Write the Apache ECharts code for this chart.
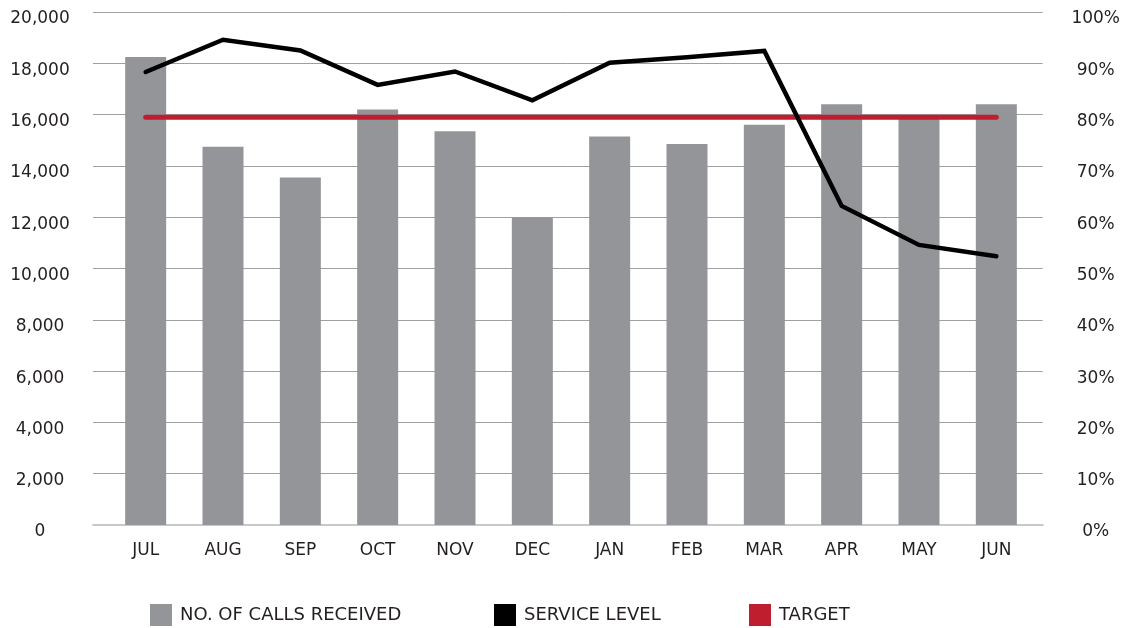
<!DOCTYPE html>
<html>
<head>
<meta charset="utf-8">
<script src="https://cdn.jsdelivr.net/npm/echarts@6/dist/echarts.min.js"></script>
<style>
html,body{margin:0;padding:0;background:#fff;}
#chart{width:1123px;height:628px;}
</style>
</head>
<body>
<div id="chart"></div>
<script>
var categories = ['JUL','AUG','SEP','OCT','NOV','DEC','JAN','FEB','MAR','APR','MAY','JUN'];
var callsReceived = [18250, 14750, 13550, 16200, 15350, 12000, 15150, 14850, 15600, 16400, 15900, 16400];
var serviceLevel = [88.3, 94.6, 92.5, 85.8, 88.4, 82.8, 90.1, 91.2, 92.4, 62.2, 54.6, 52.4];
var target = [79.5, 79.5, 79.5, 79.5, 79.5, 79.5, 79.5, 79.5, 79.5, 79.5, 79.5, 79.5];
var leftTicks = {min: 0, max: 20000, interval: 2000};
var rightTicks = {min: 0, max: 100, interval: 10};
var legendNames = ['NO. OF CALLS RECEIVED', 'SERVICE LEVEL', 'TARGET'];

var FONT = 'DejaVu Sans';
var chart = echarts.init(document.getElementById('chart'), null, {renderer: 'canvas'});
var labelStyle = {color: '#231f20', fontFamily: FONT, fontSize: 17};
var legendLefts = [150, 494, 749];

chart.setOption({
  animation: false,
  backgroundColor: '#ffffff',
  textStyle: {fontFamily: FONT},
  grid: [
    {left: 93, right: 80, top: 12, bottom: 103, containLabel: false},
    {left: 107, right: 88, top: 12, bottom: 103, containLabel: false}
  ],
  legend: legendNames.map(function(n, i){
    return {
      left: legendLefts[i], top: 604, padding: 0,
      itemWidth: 22, itemHeight: 22,
      textStyle: {color: '#231f20', fontFamily: FONT, fontSize: 18, padding: [0,0,0,3]},
      data: [{name: n, icon: 'rect'}]
    };
  }),
  xAxis: [
    {type: 'category', gridIndex: 0, data: categories,
     axisLine: {show: true, lineStyle: {color: '#c8c8c8', width: 2}},
     axisTick: {show: false}, axisLabel: {show: false}, splitLine: {show: false}},
    {type: 'category', gridIndex: 1, data: categories,
     axisLine: {show: false}, axisTick: {show: false},
     axisLabel: Object.assign({margin: 17}, labelStyle)}
  ],
  yAxis: [
    {type: 'value', gridIndex: 0, position: 'left', min: leftTicks.min, max: leftTicks.max, interval: leftTicks.interval,
     axisLine: {show: false}, axisTick: {show: false},
     splitLine: {show: true, lineStyle: {color: '#a0a0a0', width: 1}},
     axisLabel: Object.assign({margin: 53, align: 'center', verticalAlign: 'top', lineHeight: 14,
       formatter: function(v){ return v.toLocaleString('en-US'); }}, labelStyle)},
    {type: 'value', gridIndex: 0, position: 'right', min: rightTicks.min, max: rightTicks.max, interval: rightTicks.interval,
     axisLine: {show: false}, axisTick: {show: false}, splitLine: {show: false},
     axisLabel: Object.assign({margin: 53, align: 'center', verticalAlign: 'top', lineHeight: 14, formatter: '{value}%'}, labelStyle)},
    {type: 'value', gridIndex: 1, position: 'left', min: leftTicks.min, max: leftTicks.max, interval: leftTicks.interval,
     show: false},
    {type: 'value', gridIndex: 1, position: 'right', min: rightTicks.min, max: rightTicks.max, interval: rightTicks.interval,
     show: false}
  ],
  series: [
    {name: legendNames[0], type: 'bar', xAxisIndex: 1, yAxisIndex: 2,
     data: callsReceived, barWidth: 41, itemStyle: {color: '#939598'}, z: 2},
    {name: legendNames[2], type: 'line', xAxisIndex: 1, yAxisIndex: 3, data: target,
     symbol: 'none', itemStyle: {color: '#be1e2d'},
     lineStyle: {color: '#be1e2d', width: 5, cap: 'round'}, z: 3},
    {name: legendNames[1], type: 'line', xAxisIndex: 1, yAxisIndex: 3, data: serviceLevel,
     symbol: 'none', itemStyle: {color: '#000000'},
     lineStyle: {color: '#000000', width: 4.5, cap: 'round', join: 'miter'}, z: 4}
  ]
});
</script>
</body>
</html>
